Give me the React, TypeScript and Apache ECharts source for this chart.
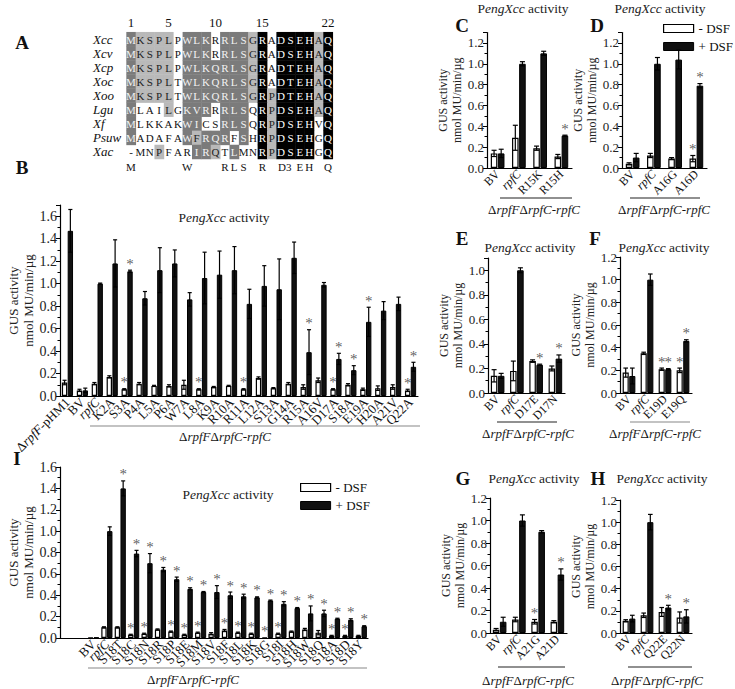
import React, { useEffect, useRef } from 'react';
import * as echarts from 'echarts';

const SERIF = 'Liberation Serif';

// ---------- Panel A : alignment ----------
const alignNames = ['Xcc', 'Xcv', 'Xcp', 'Xoc', 'Xoo', 'Lgu', 'Xf', 'Psuw', 'Xac'];
const alignSeqs = [
  'MKSPLPWLKRRLSGRADSEHAQ',
  'MKSPLPWLKRRLSGRADSEHAQ',
  'MKSPLPWLKQRLSGRADTEHAQ',
  'MKSPLTWLKQRLSGRADTEHAQ',
  'MKSPLTWLKQRLSGRPDTEHAQ',
  'MLAILGKVRRRLSQRPDSEHAQ',
  'MLKKAKWICSRLSQRPDSEHVQ',
  'MADAFAWFRQRFSHRPDSEHGQ',
  '-MNPFARIRQTLMNRPDSEHGQ',
];
// 0 white, 1 light grey, 2 dark grey, 3 black
const alignShade = [
  '2111102220222130333313',
  '2111102220222130333313',
  '2111102222222130333313',
  '2111102222222130333313',
  '2111102222222131333313',
  '2000102220222031333313',
  '2000002200222031333303',
  '2000002122202031333303',
  '0001000221020031333303',
];
const alignHeader = [
  { col: 1, text: '1' }, { col: 5, text: '5' }, { col: 10, text: '10' }, { col: 15, text: '15' }, { col: 22, text: '22' },
];
const alignConsensus = [
  { col: 1, text: 'M' }, { col: 7, text: 'W' }, { col: 11, text: 'R' }, { col: 12, text: 'L' }, { col: 13, text: 'S' },
  { col: 15, text: 'R' }, { col: 17.4, text: 'D3' }, { col: 19, text: 'E' }, { col: 20, text: 'H' }, { col: 22, text: 'Q' },
];

// ---------- Panel B ----------
const bCats = ['ΔrpfF-pHM1', 'BV', 'rpfC', 'K2A', 'S3A', 'P4A', 'L5A', 'P6A', 'W7A', 'L8A', 'K9A', 'R10A', 'R11A', 'L12A', 'S13A', 'G14A', 'R15A', 'A16V', 'D17A', 'S18A', 'E19A', 'H20A', 'A21V', 'Q22A'];
const bMinus = [0.12, 0.05, 0.11, 0.17, 0.06, 0.11, 0.09, 0.09, 0.10, 0.06, 0.08, 0.09, 0.06, 0.16, 0.07, 0.11, 0.08, 0.14, 0.06, 0.10, 0.06, 0.07, 0.08, 0.05];
const bMinusErr = [0.02, 0.01, 0.01, 0.01, 0.005, 0.01, 0.005, 0.01, 0.04, 0.005, 0.005, 0.005, 0.005, 0.01, 0.005, 0.01, 0.02, 0.02, 0.005, 0.01, 0.01, 0.02, 0.02, 0.01];
const bMinusStar = [0, 0, 0, 0, 1, 0, 0, 0, 0, 1, 0, 0, 1, 0, 0, 0, 0, 0, 1, 0, 0, 0, 0, 1];
const bPlus = [1.47, 0.05, 1.00, 1.18, 1.11, 0.87, 1.12, 1.18, 0.86, 1.05, 1.08, 1.12, 0.82, 0.98, 0.95, 1.23, 0.39, 0.99, 0.33, 0.23, 0.66, 0.76, 0.82, 0.26];
const bPlusErr = [0.19, 0.02, 0.005, 0.21, 0.01, 0.06, 0.20, 0.12, 0.06, 0.23, 0.21, 0.21, 0.13, 0.18, 0.27, 0.14, 0.20, 0.02, 0.05, 0.04, 0.13, 0.08, 0.06, 0.04];
const bPlusStar = [0, 0, 0, 0, 1, 0, 0, 0, 0, 0, 0, 0, 0, 0, 0, 0, 1, 0, 1, 1, 1, 0, 0, 1];

// ---------- Panels C-H ----------
const cCats = ['BV', 'rpfC', 'R15K', 'R15H'];
const cMinus = [0.14, 0.29, 0.19, 0.11];
const cMinusErr = [0.03, 0.12, 0.02, 0.02];
const cMinusStar = [0, 0, 0, 0];
const cPlus = [0.14, 1.00, 1.10, 0.31];
const cPlusErr = [0.04, 0.02, 0.02, 0.005];
const cPlusStar = [0, 0, 0, 1];

const dCats = ['BV', 'rpfC', 'A16G', 'A16D'];
const dMinus = [0.04, 0.12, 0.09, 0.09];
const dMinusErr = [0.01, 0.02, 0.01, 0.03];
const dMinusStar = [0, 0, 0, 1];
const dPlus = [0.10, 1.00, 1.04, 0.79];
const dPlusErr = [0.04, 0.06, 0.09, 0.02];
const dPlusStar = [0, 0, 0, 1];

const eCats = ['BV', 'rpfC', 'D17E', 'D17N'];
const eMinus = [0.14, 0.18, 0.26, 0.20];
const eMinusErr = [0.05, 0.08, 0.01, 0.02];
const eMinusStar = [0, 0, 0, 0];
const ePlus = [0.14, 1.00, 0.23, 0.28];
const ePlusErr = [0.02, 0.02, 0.005, 0.03];
const ePlusStar = [0, 0, 1, 1];

const fCats = ['BV', 'rpfC', 'E19D', 'E19Q'];
const fMinus = [0.18, 0.35, 0.21, 0.20];
const fMinusErr = [0.04, 0.01, 0.01, 0.02];
const fMinusStar = [0, 0, 1, 1];
const fPlus = [0.15, 1.00, 0.21, 0.46];
const fPlusErr = [0.07, 0.05, 0.005, 0.01];
const fPlusStar = [0, 0, 1, 1];

const gCats = ['BV', 'rpfC', 'A21G', 'A21D'];
const gMinus = [0.03, 0.12, 0.10, 0.10];
const gMinusErr = [0.01, 0.02, 0.02, 0.01];
const gMinusStar = [0, 0, 1, 0];
const gPlus = [0.10, 1.00, 0.90, 0.52];
const gPlusErr = [0.04, 0.05, 0.01, 0.05];
const gPlusStar = [0, 0, 0, 1];

const hCats = ['BV', 'rpfC', 'Q22E', 'Q22N'];
const hMinus = [0.11, 0.16, 0.19, 0.14];
const hMinusErr = [0.01, 0.02, 0.04, 0.05];
const hMinusStar = [0, 0, 0, 0];
const hPlus = [0.13, 1.00, 0.23, 0.15];
const hPlusErr = [0.03, 0.07, 0.02, 0.06];
const hPlusStar = [0, 0, 1, 1];

// ---------- Panel I ----------
const iCats = ['BV', 'rpfC', 'S18T', 'S18C', 'S18N', 'S18R', 'S18P', 'S18E', 'S18M', 'S18V', 'S18F', 'S18L', 'S18K', 'S18G', 'S18I', 'S18H', 'S18W', 'S18Q', 'S18A', 'S18D', 'S18Y'];
const iMinus = [0.005, 0.10, 0.10, 0.03, 0.04, 0.08, 0.06, 0.03, 0.05, 0.04, 0.07, 0.05, 0.04, 0.005, 0.04, 0.06, 0.08, 0.05, 0.02, 0.02, 0.02];
const iMinusErr = [0, 0.005, 0.005, 0.005, 0.005, 0.005, 0.005, 0.005, 0.005, 0.01, 0.01, 0.005, 0.005, 0, 0.005, 0.005, 0.01, 0.02, 0.005, 0.005, 0.005];
const iMinusStar = [0, 0, 0, 1, 1, 0, 1, 1, 1, 0, 1, 1, 1, 1, 1, 0, 0, 0, 1, 1, 0];
const iPlus = [0.005, 1.00, 1.40, 0.79, 0.70, 0.64, 0.55, 0.46, 0.43, 0.43, 0.40, 0.39, 0.38, 0.35, 0.32, 0.28, 0.23, 0.23, 0.18, 0.17, 0.11];
const iPlusErr = [0, 0.04, 0.07, 0.03, 0.09, 0.02, 0.02, 0.01, 0.005, 0.06, 0.03, 0.02, 0.005, 0.005, 0.02, 0.005, 0.07, 0.03, 0.005, 0.01, 0.005];
const iPlusStar = [0, 0, 1, 1, 1, 1, 1, 1, 1, 1, 1, 1, 1, 1, 1, 1, 1, 1, 1, 1, 1];

const yAxisName = 'GUS activity\nnmol MU/min/µg';
const groupLabel = 'ΔrpfFΔrpfC-rpfC';
const legendNames = ['- DSF', '+ DSF'];

const panels = [
  { id: 'B', cats: bCats, minus: bMinus, minusErr: bMinusErr, minusStar: bMinusStar, plus: bPlus, plusErr: bPlusErr, plusStar: bPlusStar },
  { id: 'C', cats: cCats, minus: cMinus, minusErr: cMinusErr, minusStar: cMinusStar, plus: cPlus, plusErr: cPlusErr, plusStar: cPlusStar },
  { id: 'D', cats: dCats, minus: dMinus, minusErr: dMinusErr, minusStar: dMinusStar, plus: dPlus, plusErr: dPlusErr, plusStar: dPlusStar },
  { id: 'E', cats: eCats, minus: eMinus, minusErr: eMinusErr, minusStar: eMinusStar, plus: ePlus, plusErr: ePlusErr, plusStar: ePlusStar },
  { id: 'F', cats: fCats, minus: fMinus, minusErr: fMinusErr, minusStar: fMinusStar, plus: fPlus, plusErr: fPlusErr, plusStar: fPlusStar },
  { id: 'G', cats: gCats, minus: gMinus, minusErr: gMinusErr, minusStar: gMinusStar, plus: gPlus, plusErr: gPlusErr, plusStar: gPlusStar },
  { id: 'H', cats: hCats, minus: hMinus, minusErr: hMinusErr, minusStar: hMinusStar, plus: hPlus, plusErr: hPlusErr, plusStar: hPlusStar },
  { id: 'I', cats: iCats, minus: iMinus, minusErr: iMinusErr, minusStar: iMinusStar, plus: iPlus, plusErr: iPlusErr, plusStar: iPlusStar },
];

// layout (positions / styles)
const layout: Record<string, any> = {
  B: { left: 60, top: 205, width: 358, height: 191, max: 1.7, showMax: false, frac: 0.36, font: 13, nameGap: 24, pad: 0,
    letter: [22, 167], title: [224, 217], line: [90, 420, 426], group: [225, 436], lineColor: '#888' },
  C: { left: 487, top: 32.5, width: 85, height: 135.5, max: 1.3, showMax: false, frac: 0.31, font: 12, nameGap: 19, pad: 0,
    letter: [462, 25], title: [523, 8], line: [500, 572, 198], group: [534, 209], lineColor: '#222' },
  D: { left: 622, top: 32.5, width: 85, height: 135.5, max: 1.3, showMax: false, frac: 0.31, font: 12, nameGap: 19, pad: 0,
    letter: [597, 25], title: [660, 8], line: [630, 700, 198], group: [664, 209], lineColor: '#222' },
  E: { left: 488, top: 258, width: 77, height: 135, max: 1.1, showMax: false, frac: 0.34, font: 12, nameGap: 19, pad: 0,
    letter: [462, 238], title: [530, 247], line: [497, 557, 422], group: [528, 433], lineColor: '#222' },
  F: { left: 620, top: 257, width: 72, height: 136, max: 1.2, showMax: true, frac: 0.34, font: 12, nameGap: 19, pad: 0,
    letter: [595, 238], title: [664, 247], line: [630, 690, 422], group: [655, 433], lineColor: '#888' },
  G: { left: 490, top: 498, width: 77, height: 135, max: 1.2, showMax: true, frac: 0.34, font: 12, nameGap: 19, pad: 0,
    letter: [463, 478], title: [534, 478], line: [498, 565, 667], group: [528, 680], lineColor: '#222' },
  H: { left: 620, top: 500, width: 72, height: 133, max: 1.2, showMax: true, frac: 0.34, font: 12, nameGap: 19, pad: 0,
    letter: [598, 478], title: [662, 478], line: [628, 692, 667], group: [657, 680], lineColor: '#222' },
  I: { left: 60, top: 467, width: 308, height: 171, max: 1.6, showMax: true, frac: 0.4, font: 13, nameGap: 24, pad: 2,
    letter: [17, 458], title: [228, 494], line: [88, 367, 668], group: [193, 679], lineColor: '#888' },
};

const GAP = 0.08;

function italRich(s: string) {
  return s.replace(/rpf([A-Z])/g, '{i|rpf$1}');
}

function errRender(frac: number) {
  return (params: any, api: any) => {
    const cat = api.value(0);
    const val = api.value(1);
    const err = api.value(2);
    const side = api.value(3);
    const band = api.size([1, 0])[0];
    const bw = band * frac;
    const off = (side === 0 ? -1 : 1) * bw * (1 + GAP) / 2;
    const x = api.coord([cat, val])[0] + off;
    const yTop = api.coord([cat, val + err])[1];
    const yBot = api.coord([cat, Math.max(0, val - err)])[1];
    const cap = Math.max(2, bw * 0.38);
    const st = { stroke: '#000', lineWidth: 1.2, fill: 'none' };
    return {
      type: 'group',
      children: [
        { type: 'line', shape: { x1: x, y1: yTop, x2: x, y2: yBot }, style: st },
        { type: 'line', shape: { x1: x - cap, y1: yTop, x2: x + cap, y2: yTop }, style: st },
        { type: 'line', shape: { x1: x - cap, y1: yBot, x2: x + cap, y2: yBot }, style: st },
      ],
    };
  };
}

function richStyles(size: number) {
  return {
    n: { fontFamily: SERIF, fontSize: size, fill: '#222' },
    i: { fontFamily: SERIF, fontSize: size, fontStyle: 'italic', fill: '#222' },
  };
}

function textEl(x: number, y: number, text: string, size: number, opts: any = {}) {
  const style: any = {
    text, fontFamily: SERIF, fontSize: size, fill: opts.fill || '#111',
    fontWeight: opts.bold ? 'bold' : 'normal', fontStyle: opts.italic ? 'italic' : 'normal',
    align: opts.align || 'center', verticalAlign: 'middle',
  };
  if (opts.rich) style.rich = opts.rich;
  return { type: 'text', x, y, silent: true, style };
}

function buildOption() {
  const grid: any[] = [];
  const xAxis: any[] = [];
  const yAxis: any[] = [];
  const series: any[] = [];
  const graphic: any[] = [];

  panels.forEach((p, k) => {
    const L = layout[p.id];
    grid.push({ left: L.left, top: L.top, width: L.width, height: L.height, containLabel: false, outerBoundsMode: 'none' });
    const pad = L.pad;
    const padCats = Array(pad).fill('').concat(p.cats);
    const padNull = Array(pad).fill(null);
    xAxis.push({
      type: 'category', gridIndex: k, data: padCats, boundaryGap: true,
      axisTick: { show: false },
      axisLine: { lineStyle: { color: '#000', width: 1.2 } },
      axisLabel: {
        rotate: 45, interval: 0, margin: 4, fontFamily: SERIF, fontSize: L.font, color: '#111',
        formatter: (v: string) => italRich(v),
        rich: { i: { fontFamily: SERIF, fontSize: L.font, fontStyle: 'italic', color: '#111' } },
      },
    });
    yAxis.push({
      type: 'value', gridIndex: k, min: 0, max: L.max, interval: 0.2,
      splitLine: { show: false },
      axisLine: { show: true, lineStyle: { color: '#000', width: 1.2 } },
      axisTick: { show: true, length: 4, lineStyle: { color: '#000' } },
      minorTick: { show: true, splitNumber: 2, length: 2.5, lineStyle: { color: '#000' } },
      axisLabel: {
        formatter: (v: number) => v.toFixed(1), showMaxLabel: L.showMax, showMinLabel: true,
        fontFamily: SERIF, fontSize: L.font + 1, color: '#222', margin: 3,
      },
      name: yAxisName, nameLocation: 'middle', nameGap: L.nameGap, nameRotate: 90,
      nameTextStyle: { fontFamily: SERIF, fontSize: L.font, lineHeight: L.font + 2, color: '#222' },
    });
    const bwPct = Math.round(L.frac * 1000) / 10 + '%';
    series.push({
      type: 'bar', name: legendNames[0], xAxisIndex: k, yAxisIndex: k, data: padNull.concat(p.minus),
      barWidth: bwPct, barGap: GAP * 100 + '%', silent: true,
      itemStyle: { color: '#ffffff', borderColor: '#000', borderWidth: 1.2 },
    });
    series.push({
      type: 'bar', name: legendNames[1], xAxisIndex: k, yAxisIndex: k, data: padNull.concat(p.plus),
      barWidth: bwPct, barGap: GAP * 100 + '%', silent: true,
      itemStyle: { color: '#111111', borderColor: '#000', borderWidth: 1 },
    });
    const errData: any[] = [];
    p.minus.forEach((v, i) => { if (p.minusErr[i] > 0.004) errData.push([i + pad, v, p.minusErr[i], 0]); });
    p.plus.forEach((v, i) => { if (p.plusErr[i] > 0.004) errData.push([i + pad, v, p.plusErr[i], 1]); });
    series.push({
      type: 'custom', name: 'err' + p.id, xAxisIndex: k, yAxisIndex: k, data: errData, silent: true, z: 10,
      encode: { x: 0, y: 1 }, renderItem: errRender(L.frac),
    });
    // significance asterisks as scatter labels
    const band = L.width / padCats.length;
    const dx = band * L.frac * (1 + GAP) / 2;
    const starData: any[] = [];
    p.minus.forEach((v, i) => {
      if (p.minusStar[i]) starData.push({ value: [i + pad, v + p.minusErr[i]], label: { offset: [-dx, 1] } });
    });
    p.plus.forEach((v, i) => {
      if (p.plusStar[i]) starData.push({ value: [i + pad, v + p.plusErr[i]], label: { offset: [dx, 1] } });
    });
    series.push({
      type: 'scatter', name: 'sig' + p.id, xAxisIndex: k, yAxisIndex: k, data: starData, silent: true, z: 11,
      symbol: 'circle', symbolSize: 0, itemStyle: { color: 'rgba(0,0,0,0)' },
      label: {
        show: true, position: 'top', distance: 0, formatter: '*',
        color: '#333333', fontSize: 15, fontFamily: SERIF,
      },
    });

    graphic.push(textEl(L.letter[0], L.letter[1], p.id, 19, { bold: true }));
    graphic.push(textEl(L.title[0], L.title[1], '{n|P}{i|engXcc}{n| activity}', 13, { rich: richStyles(13.5) }));
    graphic.push({
      type: 'line', silent: true,
      shape: { x1: L.line[0], y1: L.line[2], x2: L.line[1], y2: L.line[2] },
      style: { stroke: L.lineColor, lineWidth: 1.2 },
    });
    graphic.push(textEl(L.group[0], L.group[1], italRich(groupLabel), 13, { rich: richStyles(13) }));
  });

  // Panel A
  const colX = (c: number) => 131 + (c - 1) * 9.38;
  const rowY = (r: number) => 39 + r * 14.1;
  const cw = 9.38, rh = 14.1;
  const shadeFill = ['#ffffff', '#b9b9b9', '#7b7b7b', '#000000'];
  const shadeText = ['#111', '#222', '#f2f2f2', '#ffffff'];
  graphic.push(textEl(22, 42, 'A', 19, { bold: true }));
  alignSeqs.forEach((seq, r) => {
    graphic.push(textEl(93, rowY(r), alignNames[r], 13, { italic: true, align: 'left' }));
    for (let c = 0; c < seq.length; c++) {
      const s = Number(alignShade[r][c]);
      if (s > 0) {
        graphic.push({
          type: 'rect', silent: true,
          shape: { x: colX(c + 1) - cw / 2, y: rowY(r) - rh / 2, width: cw + 0.4, height: rh + 0.4 },
          style: { fill: shadeFill[s] },
        });
      }
    }
  });
  alignSeqs.forEach((seq, r) => {
    for (let c = 0; c < seq.length; c++) {
      const s = Number(alignShade[r][c]);
      graphic.push(textEl(colX(c + 1), rowY(r) + 0.5, seq[c], 11, { fill: shadeText[s] }));
    }
  });
  alignHeader.forEach((h) => graphic.push(textEl(colX(h.col), 22, h.text, 13)));
  alignConsensus.forEach((h) => graphic.push(textEl(colX(h.col), 167, h.text, 11)));

  const legendBase = {
    orient: 'vertical', icon: 'rect', itemWidth: 30, itemHeight: 8, itemGap: 5, selectedMode: false,
    textStyle: { fontFamily: SERIF, fontSize: 13, color: '#111' },
    data: [
      { name: legendNames[0], itemStyle: { color: '#fff', borderColor: '#000', borderWidth: 1.2 } },
      { name: legendNames[1], itemStyle: { color: '#111', borderColor: '#000', borderWidth: 1 } },
    ],
  };

  return {
    animation: false,
    backgroundColor: '#ffffff',
    textStyle: { fontFamily: SERIF },
    grid, xAxis, yAxis, series,
    legend: [
      { ...legendBase, left: 658, top: 17 },
      { ...legendBase, left: 295, top: 476 },
    ],
    graphic: { elements: graphic },
  };
}

export default function App() {
  const ref = useRef<HTMLDivElement>(null);
  useEffect(() => {
    document.body.style.margin = '0';
    const chart = echarts.init(ref.current as HTMLDivElement, null, { renderer: 'svg' });
    chart.setOption(buildOption() as any);
    return () => chart.dispose();
  }, []);
  return <div ref={ref} style={{ width: 735, height: 689 }} />;
}
